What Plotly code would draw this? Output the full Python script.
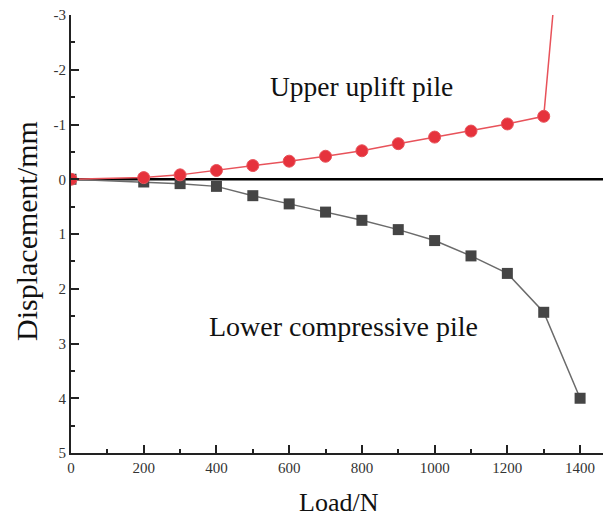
import plotly.graph_objects as go

load_upper = [0, 200, 300, 400, 500, 600, 700, 800, 900, 1000, 1100, 1200, 1300, 1325]
disp_upper = [0, -0.03, -0.08, -0.16, -0.25, -0.33, -0.42, -0.52, -0.65, -0.77, -0.88, -1.01, -1.15, -3.0]
upper_marker_sizes = [12] * 13 + [0]

load_lower = [0, 200, 300, 400, 500, 600, 700, 800, 900, 1000, 1100, 1200, 1300, 1400]
disp_lower = [0, 0.05, 0.08, 0.13, 0.30, 0.45, 0.60, 0.75, 0.92, 1.12, 1.40, 1.72, 2.43, 4.00]

x_ticks = [0, 200, 400, 600, 800, 1000, 1200, 1400]
y_ticks = [-3, -2, -1, 0, 1, 2, 3, 4, 5]
y_tick_labels = ["-3", "-2", "-1", "0", "1", "2", "3", "4", "5"]

serif = "Liberation Serif, Times New Roman, serif"

# page body has an 8px margin, so the figure is drawn 8px smaller and offset
PAD = 8
fig_w, fig_h = 611 - PAD, 520 - PAD
plot_l, plot_t, plot_w, plot_h = 71 - PAD, 15 - PAD, 540, 438


def px_x(x_page):
    return (x_page - PAD - plot_l) / plot_w


def px_y(y_page):
    return 1 - (y_page - PAD - plot_t) / plot_h


fig = go.Figure()
fig.add_trace(go.Scatter(
    x=load_lower, y=disp_lower, mode="lines+markers",
    line=dict(color="#6b6b6b", width=1.5),
    marker=dict(symbol="square", size=11, color="#454545", opacity=1),
    showlegend=False,
))
fig.add_trace(go.Scatter(
    x=load_upper, y=disp_upper, mode="lines+markers",
    line=dict(color="#e8525a", width=1.5),
    marker=dict(symbol="circle", size=upper_marker_sizes, color="#e6323c", opacity=1),
    showlegend=False,
))

fig.add_shape(type="line", xref="paper", yref="y", x0=0, x1=1, y0=0, y1=0,
              line=dict(color="black", width=2.5), layer="below")


def label(text, x_page, y_page, size, angle=0):
    fig.add_annotation(x=px_x(x_page), y=px_y(y_page), xref="paper", yref="paper",
                       xanchor="center", yanchor="middle", text=text,
                       showarrow=False, textangle=angle,
                       font=dict(family=serif, size=size, color="#111"))


label("Upper uplift pile", 361, 86, 27.5)
label("Lower compressive pile", 343, 326, 28)
label("Displacement/mm", 26, 231, 30, angle=-90)
label("Load/N", 339, 502, 26)

fig.update_xaxes(
    range=[0, 1485], tickvals=x_ticks, ticks="inside", ticklen=8, tickwidth=1.5,
    tickcolor="#222", showline=True, linecolor="#222", linewidth=2,
    showgrid=False, zeroline=False, automargin=False, ticklabeloverflow="allow",
    minor=dict(dtick=100, ticks="inside", ticklen=4, tickcolor="#222", tickwidth=1.5),
    tickfont=dict(family=serif, size=15, color="#333"),
)
fig.update_yaxes(
    range=[5, -3], tickvals=y_ticks, ticktext=y_tick_labels, ticks="inside",
    ticklen=8, tickwidth=1.5, tickcolor="#222", showline=True, linecolor="#222",
    linewidth=2, showgrid=False, zeroline=False, automargin=False,
    ticklabeloverflow="allow",
    minor=dict(dtick=0.5, ticks="inside", ticklen=4, tickcolor="#222", tickwidth=1.5),
    tickfont=dict(family=serif, size=15, color="#333"),
)

fig.update_layout(
    width=fig_w, height=fig_h,
    margin=dict(l=plot_l, r=fig_w - plot_l - plot_w, t=plot_t,
                b=fig_h - plot_t - plot_h, autoexpand=False),
    plot_bgcolor="white", paper_bgcolor="white",
)

fig.write_html("out.html")
